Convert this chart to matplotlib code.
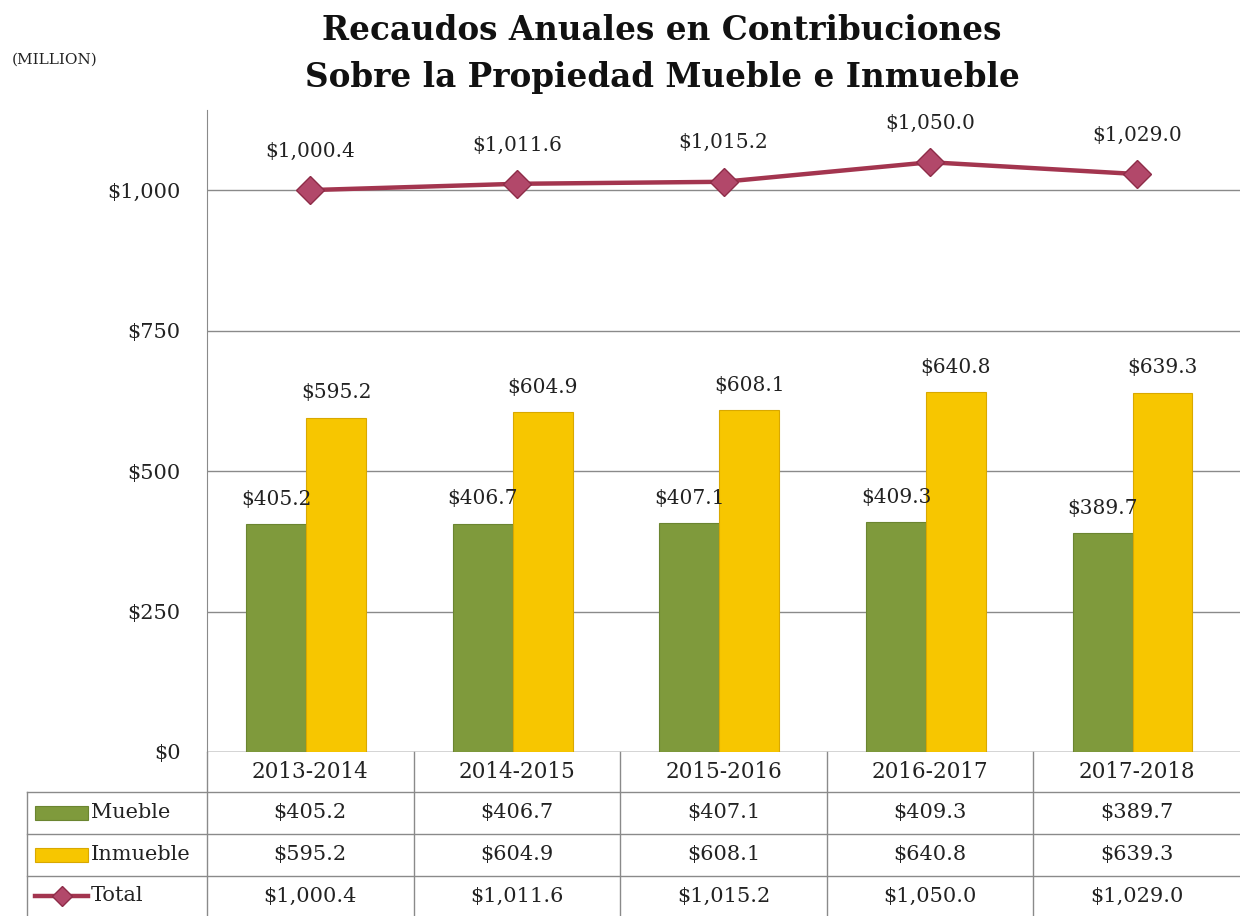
import numpy as np
import matplotlib
matplotlib.use("Agg")
import matplotlib.pyplot as plt
from matplotlib.patches import Rectangle
from matplotlib.lines import Line2D

years = ["2013-2014", "2014-2015", "2015-2016", "2016-2017", "2017-2018"]
mueble = [405.2, 406.7, 407.1, 409.3, 389.7]
inmueble = [595.2, 604.9, 608.1, 640.8, 639.3]
total = [1000.4, 1011.6, 1015.2, 1050.0, 1029.0]
row_names = ["Mueble", "Inmueble", "Total"]
yticks = [0, 250, 500, 750, 1000]

green = "#7f9a3c"
yellow = "#f7c600"
red = "#a3354f"
grid_c = "#8a8a8a"
font = "DejaVu Serif"

def money(v):
    return "${:,.1f}".format(v)

plt.rcParams["font.family"] = font

fig = plt.figure(figsize=(12.4, 9.16), dpi=100)
ax = fig.add_axes([207 / 1240, 1 - 752 / 916, 1033 / 1240, 642 / 916])

x = np.arange(len(years))
w = 0.29
b1 = ax.bar(x - w / 2 - 0.02, mueble, w, color=green, edgecolor="#6b8530", linewidth=0.8, zorder=3)
b2 = ax.bar(x + w / 2 - 0.02, inmueble, w, color=yellow, edgecolor="#d9a800", linewidth=0.8, zorder=3)
ax.plot(x, total, color=red, lw=3.2, marker="D", markersize=14,
        markerfacecolor="#b2486a", markeredgecolor="#8e2c48", zorder=5)

for r, v in zip(b1, mueble):
    ax.annotate(money(v), (r.get_x() + r.get_width() / 2, v), xytext=(0, 18),
                textcoords="offset points", ha="center", va="center", fontsize=14.5, color="#222222")
for r, v in zip(b2, inmueble):
    ax.annotate(money(v), (r.get_x() + r.get_width() / 2, v), xytext=(0, 18),
                textcoords="offset points", ha="center", va="center", fontsize=14.5, color="#222222")
for xi, v in zip(x, total):
    ax.annotate(money(v), (xi, v), xytext=(0, 28), textcoords="offset points",
                ha="center", va="center", fontsize=14.5, color="#222222")

ax.set_xlim(-0.5, len(years) - 0.5)
ax.set_ylim(0, 1143)
ax.set_yticks(yticks)
ax.set_yticklabels(["${:,}".format(t) for t in yticks], fontsize=15, color="#222222")
ax.tick_params(axis="y", length=0, pad=19)
ax.set_xticks([])
for s in ["top", "right", "bottom"]:
    ax.spines[s].set_visible(False)
ax.spines["left"].set_color(grid_c)
ax.yaxis.grid(True, color=grid_c, lw=1, zorder=0)
ax.set_axisbelow(True)
ax.axhline(0, color=grid_c, lw=1, zorder=1)

# data table drawn below the axes
trans = ax.get_xaxis_transform()
rows_y = [0, -0.0623, -0.1277, -0.1931, -0.2554]
label_left = -0.5 - 180 / 206.6
kw = dict(transform=trans, color=grid_c, lw=1, clip_on=False)
for yb in rows_y[1:4]:
    ax.add_line(Line2D([label_left, len(years) - 0.5], [yb, yb], **kw))
ax.add_line(Line2D([label_left, label_left], [rows_y[1], rows_y[-1]], **kw))
for xb in np.arange(len(years)) - 0.5:
    ax.add_line(Line2D([xb, xb], [rows_y[0], rows_y[-1]], **kw))

for i, yr in enumerate(years):
    ax.text(i, (rows_y[0] + rows_y[1]) / 2, yr, transform=trans, ha="center", va="center",
            fontsize=15.5, color="#222222")
for r, series in enumerate([mueble, inmueble, total]):
    yc = (rows_y[r + 1] + rows_y[r + 2]) / 2
    for i, v in enumerate(series):
        ax.text(i, yc, money(v), transform=trans, ha="center", va="center",
                fontsize=15, color="#222222")
    ax.text(label_left + 0.31, yc, row_names[r], transform=trans, ha="left", va="center",
            fontsize=15, color="#222222")

sw_x0 = label_left + 8 / 206.6
sw_w = 53 / 206.6
for r, col, ec in [(0, green, "#6b8530"), (1, yellow, "#d9a800")]:
    yc = (rows_y[r + 1] + rows_y[r + 2]) / 2
    ax.add_patch(Rectangle((sw_x0, yc - 0.011), sw_w, 0.022, transform=trans,
                           facecolor=col, edgecolor=ec, lw=0.8, clip_on=False))
yc = (rows_y[3] + rows_y[4]) / 2
ax.add_line(Line2D([sw_x0, sw_x0 + sw_w], [yc, yc], transform=trans, color=red, lw=3.2,
                   clip_on=False))
ax.add_line(Line2D([sw_x0 + sw_w / 2], [yc], transform=trans, marker="D", markersize=10,
                   markerfacecolor="#b2486a", markeredgecolor="#8e2c48", clip_on=False))

fig.text(662 / 1240, 1 - 30 / 916, "Recaudos Anuales en Contribuciones", ha="center", va="center",
         fontsize=23.5, fontweight="bold", color="#111111")
fig.text(662 / 1240, 1 - 78 / 916, "Sobre la Propiedad Mueble e Inmueble", ha="center", va="center",
         fontsize=23.5, fontweight="bold", color="#111111")
fig.text(12 / 1240, 1 - 60 / 916, "(MILLION)", ha="left", va="center", fontsize=11, color="#222222")

fig.savefig("out.png", dpi=100, facecolor="white")
